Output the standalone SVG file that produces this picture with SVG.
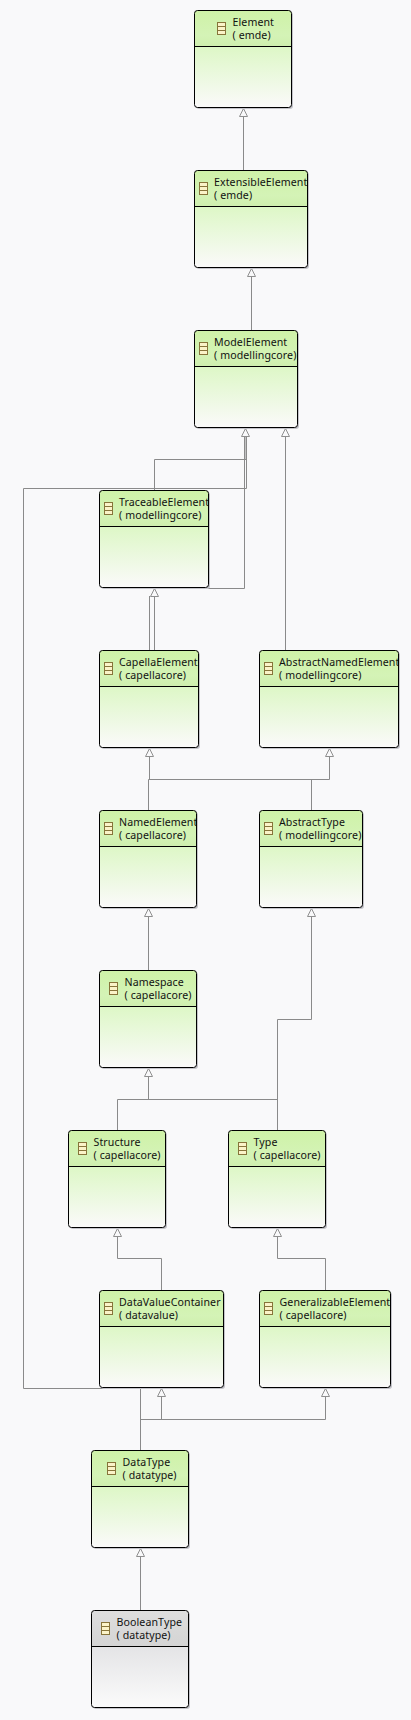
<svg xmlns="http://www.w3.org/2000/svg" width="411" height="1720" viewBox="0 0 411 1720">
<style>
.bg{fill:#f9f9fa}
.shadow{fill:#c4c4ca;stroke:none}
.box{stroke:none;fill:url(#body)}
.ol{stroke:#000;stroke-width:1;fill:none}
.hd{fill:url(#head)}
.sep{stroke:#000;stroke-width:1}
.grey .box{fill:url(#bodyG)}
.grey .hd{fill:url(#headG)}
.ic{fill:#fbf3c8;stroke:#87743a;stroke-width:1}
text{font-family:"Noto Sans","Liberation Sans",sans-serif;font-size:10.6px;letter-spacing:.1px;fill:#111}
.c path{fill:none;stroke:#8a8a8a;stroke-width:1}
.c .a{fill:#f9f9fa;stroke:#8f8f8f;stroke-width:1}
</style>
<defs>
<linearGradient id="head" x1="0" y1="0" x2="0" y2="1"><stop offset="0" stop-color="#cff2a8"/><stop offset="0.7" stop-color="#d4f3b6"/><stop offset="1" stop-color="#ceefae"/></linearGradient>
<linearGradient id="body" x1="0" y1="0" x2="0" y2="1"><stop offset="0" stop-color="#d0f2ae"/><stop offset="0.37" stop-color="#ddf7c6"/><stop offset="1" stop-color="#fbfafa"/></linearGradient>
<linearGradient id="headG" x1="0" y1="0" x2="0" y2="1"><stop offset="0" stop-color="#dedede"/><stop offset="1" stop-color="#d4d4d4"/></linearGradient>
<linearGradient id="bodyG" x1="0" y1="0" x2="0" y2="1"><stop offset="0" stop-color="#dadada"/><stop offset="0.37" stop-color="#e4e4e6"/><stop offset="1" stop-color="#fbfbfb"/></linearGradient>
<g id="icon"><rect class="ic" x="0" y="0" width="8" height="12"/><path class="ic" d="M0 4H8M0 8H8"/></g>
<clipPath id="cE"><rect x="195" y="170" width="112" height="97"/></clipPath>
<clipPath id="cT"><rect x="100" y="490" width="108" height="97"/></clipPath>
<clipPath id="cC"><rect x="100" y="650" width="98" height="97"/></clipPath>
<clipPath id="cA"><rect x="260" y="650" width="138" height="97"/></clipPath>
<clipPath id="cN"><rect x="100" y="810" width="96" height="97"/></clipPath>
<clipPath id="cY"><rect x="260" y="810" width="102" height="97"/></clipPath>
<clipPath id="cD"><rect x="100" y="1290" width="123" height="97"/></clipPath>
<clipPath id="cG"><rect x="260" y="1290" width="130" height="97"/></clipPath>
</defs>
<rect class="bg" width="411" height="1720"/>
<g id="connectors" class="c">
<path d="M243.5 170V116"/><polygon class="a" points="243.5,108.5 239.5,116.5 247.5,116.5"/>
<path d="M251.5 330V276"/><polygon class="a" points="251.5,268.5 247.5,276.5 255.5,276.5"/>
<path d="M154.5 490V459.5H246V436"/>
<path d="M23.5 1388.5V488.5H246.5V436"/>
<path d="M208 588.5H244.5V436"/>
<polygon class="a" points="245.5,428.5 241.5,436.5 249.5,436.5"/>
<path d="M285.5 650V436"/><polygon class="a" points="285.5,428.5 281.5,436.5 289.5,436.5"/>
<path d="M149.5 650V596"/><path d="M154.5 650V596"/><polygon class="a" points="154.5,588.5 150.5,596.5 158.5,596.5"/>
<path d="M149.5 756V779.5M148.5 810V779.5H329.5V756M311.5 810V779.5"/>
<polygon class="a" points="149.5,748.5 145.5,756.5 153.5,756.5"/><polygon class="a" points="329.5,748.5 325.5,756.5 333.5,756.5"/>
<path d="M148.5 970V916"/><polygon class="a" points="148.5,908.5 144.5,916.5 152.5,916.5"/>
<path d="M117.5 1130V1099.5H277.5M148.5 1099.5V1076M277.5 1130V1019.5H311.5V916"/>
<polygon class="a" points="148.5,1068.5 144.5,1076.5 152.5,1076.5"/><polygon class="a" points="311.5,908.5 307.5,916.5 315.5,916.5"/>
<path d="M161.5 1290V1258.5H117.5V1236"/><polygon class="a" points="117.5,1228.5 113.5,1236.5 121.5,1236.5"/>
<path d="M325.5 1290V1258.5H277.5V1236"/><polygon class="a" points="277.5,1228.5 273.5,1236.5 281.5,1236.5"/>
<path d="M23.5 1388.5H140.5V1450M140.5 1419.5H325.5V1396M161.5 1419.5V1396"/>
<polygon class="a" points="161.5,1388.5 157.5,1396.5 165.5,1396.5"/><polygon class="a" points="325.5,1388.5 321.5,1396.5 329.5,1396.5"/>
<path d="M140.5 1610V1556"/><polygon class="a" points="140.5,1548.5 136.5,1556.5 144.5,1556.5"/>
</g>
<g id="Element"><rect class="shadow" x="196" y="12" width="97" height="97" rx="3"/><rect class="box" x="194.5" y="10.5" width="97" height="97" rx="3"/><path class="hd" d="M194.5 46.5V13.5a3 3 0 0 1 3-3H288.5a3 3 0 0 1 3 3V46.5Z"/><rect class="ol" x="194.5" y="10.5" width="97" height="97" rx="3"/><path class="sep" d="M195 46.5H291"/><use href="#icon" x="217.5" y="22.5"/><text x="232.5" y="26">Element</text><text x="232.5" y="39">( emde)</text></g>
<g id="ExtensibleElement"><rect class="shadow" x="196" y="172" width="113" height="97" rx="3"/><rect class="box" x="194.5" y="170.5" width="113" height="97" rx="3"/><path class="hd" d="M194.5 206.5V173.5a3 3 0 0 1 3-3H304.5a3 3 0 0 1 3 3V206.5Z"/><rect class="ol" x="194.5" y="170.5" width="113" height="97" rx="3"/><path class="sep" d="M195 206.5H307"/><use href="#icon" x="199.5" y="182.5"/><g clip-path="url(#cE)"><text x="214" y="186">ExtensibleElement</text><text x="214" y="199">( emde)</text></g></g>
<g id="ModelElement"><rect class="shadow" x="196" y="332" width="103" height="97" rx="3"/><rect class="box" x="194.5" y="330.5" width="103" height="97" rx="3"/><path class="hd" d="M194.5 366.5V333.5a3 3 0 0 1 3-3H294.5a3 3 0 0 1 3 3V366.5Z"/><rect class="ol" x="194.5" y="330.5" width="103" height="97" rx="3"/><path class="sep" d="M195 366.5H297"/><use href="#icon" x="199.5" y="342.5"/><text x="214" y="346">ModelElement</text><text x="214" y="359">( modellingcore)</text></g>
<g id="TraceableElement"><rect class="shadow" x="101" y="492" width="109" height="97" rx="3"/><rect class="box" x="99.5" y="490.5" width="109" height="97" rx="3"/><path class="hd" d="M99.5 526.5V493.5a3 3 0 0 1 3-3H205.5a3 3 0 0 1 3 3V526.5Z"/><rect class="ol" x="99.5" y="490.5" width="109" height="97" rx="3"/><path class="sep" d="M100 526.5H208"/><use href="#icon" x="104.5" y="502.5"/><g clip-path="url(#cT)"><text x="119" y="506">TraceableElement</text><text x="119" y="519">( modellingcore)</text></g></g>
<g id="CapellaElement"><rect class="shadow" x="101" y="652" width="99" height="97" rx="3"/><rect class="box" x="99.5" y="650.5" width="99" height="97" rx="3"/><path class="hd" d="M99.5 686.5V653.5a3 3 0 0 1 3-3H195.5a3 3 0 0 1 3 3V686.5Z"/><rect class="ol" x="99.5" y="650.5" width="99" height="97" rx="3"/><path class="sep" d="M100 686.5H198"/><use href="#icon" x="104.5" y="662.5"/><g clip-path="url(#cC)"><text x="119" y="666">CapellaElement</text><text x="119" y="679">( capellacore)</text></g></g>
<g id="AbstractNamedElement"><rect class="shadow" x="261" y="652" width="139" height="97" rx="3"/><rect class="box" x="259.5" y="650.5" width="139" height="97" rx="3"/><path class="hd" d="M259.5 686.5V653.5a3 3 0 0 1 3-3H395.5a3 3 0 0 1 3 3V686.5Z"/><rect class="ol" x="259.5" y="650.5" width="139" height="97" rx="3"/><path class="sep" d="M260 686.5H398"/><use href="#icon" x="264.5" y="662.5"/><g clip-path="url(#cA)"><text x="279" y="666">AbstractNamedElement</text><text x="279" y="679">( modellingcore)</text></g></g>
<g id="NamedElement"><rect class="shadow" x="101" y="812" width="97" height="97" rx="3"/><rect class="box" x="99.5" y="810.5" width="97" height="97" rx="3"/><path class="hd" d="M99.5 846.5V813.5a3 3 0 0 1 3-3H193.5a3 3 0 0 1 3 3V846.5Z"/><rect class="ol" x="99.5" y="810.5" width="97" height="97" rx="3"/><path class="sep" d="M100 846.5H196"/><use href="#icon" x="104.5" y="822.5"/><g clip-path="url(#cN)"><text x="119" y="826">NamedElement</text><text x="119" y="839">( capellacore)</text></g></g>
<g id="AbstractType"><rect class="shadow" x="261" y="812" width="103" height="97" rx="3"/><rect class="box" x="259.5" y="810.5" width="103" height="97" rx="3"/><path class="hd" d="M259.5 846.5V813.5a3 3 0 0 1 3-3H359.5a3 3 0 0 1 3 3V846.5Z"/><rect class="ol" x="259.5" y="810.5" width="103" height="97" rx="3"/><path class="sep" d="M260 846.5H362"/><use href="#icon" x="264.5" y="822.5"/><g clip-path="url(#cY)"><text x="279" y="826">AbstractType</text><text x="279" y="839">( modellingcore)</text></g></g>
<g id="Namespace"><rect class="shadow" x="101" y="972" width="97" height="97" rx="3"/><rect class="box" x="99.5" y="970.5" width="97" height="97" rx="3"/><path class="hd" d="M99.5 1006.5V973.5a3 3 0 0 1 3-3H193.5a3 3 0 0 1 3 3V1006.5Z"/><rect class="ol" x="99.5" y="970.5" width="97" height="97" rx="3"/><path class="sep" d="M100 1006.5H196"/><use href="#icon" x="109.5" y="982.5"/><text x="124.5" y="986">Namespace</text><text x="124.5" y="999">( capellacore)</text></g>
<g id="Structure"><rect class="shadow" x="70" y="1132" width="97" height="97" rx="3"/><rect class="box" x="68.5" y="1130.5" width="97" height="97" rx="3"/><path class="hd" d="M68.5 1166.5V1133.5a3 3 0 0 1 3-3H162.5a3 3 0 0 1 3 3V1166.5Z"/><rect class="ol" x="68.5" y="1130.5" width="97" height="97" rx="3"/><path class="sep" d="M69 1166.5H165"/><use href="#icon" x="78.5" y="1142.5"/><text x="93.5" y="1146">Structure</text><text x="93.5" y="1159">( capellacore)</text></g>
<g id="Type"><rect class="shadow" x="230" y="1132" width="97" height="97" rx="3"/><rect class="box" x="228.5" y="1130.5" width="97" height="97" rx="3"/><path class="hd" d="M228.5 1166.5V1133.5a3 3 0 0 1 3-3H322.5a3 3 0 0 1 3 3V1166.5Z"/><rect class="ol" x="228.5" y="1130.5" width="97" height="97" rx="3"/><path class="sep" d="M229 1166.5H325"/><use href="#icon" x="238.5" y="1142.5"/><text x="253.5" y="1146">Type</text><text x="253.5" y="1159">( capellacore)</text></g>
<g id="DataValueContainer"><rect class="shadow" x="101" y="1292" width="124" height="97" rx="3"/><rect class="box" x="99.5" y="1290.5" width="124" height="97" rx="3"/><path class="hd" d="M99.5 1326.5V1293.5a3 3 0 0 1 3-3H220.5a3 3 0 0 1 3 3V1326.5Z"/><rect class="ol" x="99.5" y="1290.5" width="124" height="97" rx="3"/><path class="sep" d="M100 1326.5H223"/><use href="#icon" x="104.5" y="1302.5"/><g clip-path="url(#cD)"><text x="119" y="1306">DataValueContainer</text><text x="119" y="1319">( datavalue)</text></g></g>
<g id="GeneralizableElement"><rect class="shadow" x="261" y="1292" width="131" height="97" rx="3"/><rect class="box" x="259.5" y="1290.5" width="131" height="97" rx="3"/><path class="hd" d="M259.5 1326.5V1293.5a3 3 0 0 1 3-3H387.5a3 3 0 0 1 3 3V1326.5Z"/><rect class="ol" x="259.5" y="1290.5" width="131" height="97" rx="3"/><path class="sep" d="M260 1326.5H390"/><use href="#icon" x="264.5" y="1302.5"/><g clip-path="url(#cG)"><text x="279.5" y="1306">GeneralizableElement</text><text x="279.5" y="1319">( capellacore)</text></g></g>
<g id="DataType"><rect class="shadow" x="93" y="1452" width="97" height="97" rx="3"/><rect class="box" x="91.5" y="1450.5" width="97" height="97" rx="3"/><path class="hd" d="M91.5 1486.5V1453.5a3 3 0 0 1 3-3H185.5a3 3 0 0 1 3 3V1486.5Z"/><rect class="ol" x="91.5" y="1450.5" width="97" height="97" rx="3"/><path class="sep" d="M92 1486.5H188"/><use href="#icon" x="107.5" y="1462.5"/><text x="122.5" y="1466">DataType</text><text x="122.5" y="1479">( datatype)</text></g>
<g id="BooleanType" class="grey"><rect class="shadow" x="93" y="1612" width="97" height="97" rx="3"/><rect class="box" x="91.5" y="1610.5" width="97" height="97" rx="3"/><path class="hd" d="M91.5 1646.5V1613.5a3 3 0 0 1 3-3H185.5a3 3 0 0 1 3 3V1646.5Z"/><rect class="ol" x="91.5" y="1610.5" width="97" height="97" rx="3"/><path class="sep" d="M92 1646.5H188"/><use href="#icon" x="101.5" y="1622.5"/><text x="116.5" y="1626">BooleanType</text><text x="116.5" y="1639">( datatype)</text></g>
</svg>
